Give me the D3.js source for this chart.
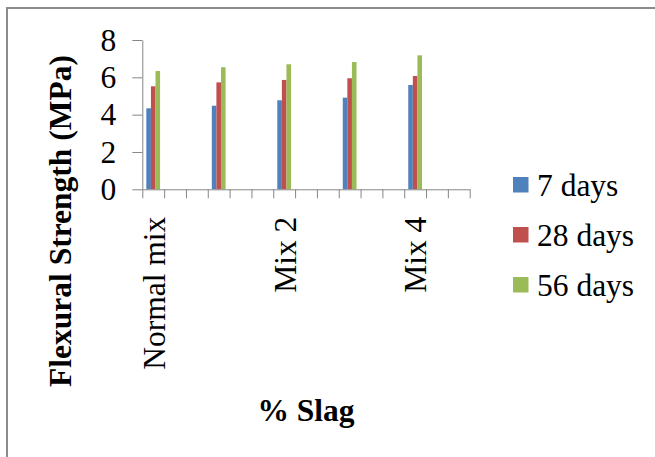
<!DOCTYPE html>
<html>
<head>
<meta charset="utf-8">
<script src="https://cdn.jsdelivr.net/npm/d3@7"></script>
<style>
  body { margin: 0; background: #fff; }
  text { font-family: "Liberation Serif", "Times New Roman", serif; fill: #000; }
</style>
</head>
<body>
<div id="chart"></div>
<script>
// Chart data
var mixes = ["Normal mix", "Mix 1", "Mix 2", "Mix 3", "Mix 4"];
var seriesNames = ["7 days", "28 days", "56 days"];
var days7 = [4.34, 4.48, 4.77, 4.91, 5.59];
var days28 = [5.52, 5.73, 5.86, 5.95, 6.07];
var days56 = [6.34, 6.54, 6.70, 6.82, 7.18];
var yTicks = [0, 2, 4, 6, 8];
var colors = ["#4F81BD", "#C0504D", "#9BBB59"];

// each mix sits in every third slot of the category axis (15 slots)
var slotCount = 15;
var slotStep = 3;

var svgWidth = 655;
var svgHeight = 457;

var margin = { top: 40, left: 142.3 };
var width = 327.4;
var height = 149.3;

var svg = d3.select("#chart")
  .append("svg")
  .attr("width", svgWidth)
  .attr("height", svgHeight);

// outer frame (cut off on the right and bottom)
svg.append("rect")
  .attr("x", 7)
  .attr("y", 8)
  .attr("width", 700)
  .attr("height", 500)
  .attr("fill", "none")
  .attr("stroke", "#8c8c8c")
  .attr("stroke-width", 2);

var chartGroup = svg.append("g")
  .attr("transform", `translate(${margin.left}, ${margin.top})`);

// scales
var xSlot = d3.scaleBand()
  .domain(d3.range(slotCount))
  .range([0, width]);

var xSeries = d3.scaleBand()
  .domain(seriesNames)
  .range([0, xSlot.bandwidth()])
  .paddingOuter(0.88);

var xEdge = d3.scaleLinear()
  .domain([0, slotCount])
  .range([0, width]);

var yLinearScale = d3.scaleLinear()
  .domain([0, 8])
  .range([height, 0]);

// y axis
var leftAxis = d3.axisLeft(yLinearScale)
  .tickValues(yTicks)
  .tickSizeInner(10)
  .tickSizeOuter(0)
  .tickPadding(16);

var yAxis = chartGroup.append("g").call(leftAxis);
yAxis.selectAll("path, line").attr("stroke", "#868686");
yAxis.selectAll("text")
  .style("font-size", "31.5px")
  .style("font-family", "'Liberation Serif', 'Times New Roman', serif")
  .attr("fill", "#000");

// bars
var seriesData = [days7, days28, days56];
seriesData.forEach(function(values, s) {
  chartGroup.append("g")
    .selectAll("rect")
    .data(values)
    .enter()
    .append("rect")
    .attr("x", (d, i) => xSlot(i * slotStep) + xSeries(seriesNames[s]))
    .attr("y", d => yLinearScale(d))
    .attr("width", xSeries.bandwidth())
    .attr("height", d => height - yLinearScale(d))
    .attr("fill", colors[s]);
});

// x axis with ticks between category slots
var bottomAxis = d3.axisBottom(xEdge)
  .tickValues(d3.range(slotCount + 1))
  .tickFormat("")
  .tickSizeInner(9)
  .tickSizeOuter(0);

var xAxis = chartGroup.append("g")
  .attr("transform", `translate(0, ${height})`)
  .call(bottomAxis);
xAxis.selectAll("path, line").attr("stroke", "#868686");

// rotated category labels, every other one shown
chartGroup.append("g")
  .selectAll("text")
  .data(mixes.filter((d, i) => i % 2 === 0))
  .enter()
  .append("text")
  .attr("transform", d => {
    var cx = xSlot(mixes.indexOf(d) * slotStep) + xSlot.bandwidth() / 2;
    return `translate(${cx}, ${height + 27.4}) rotate(-90)`;
  })
  .attr("dy", "0.36em")
  .attr("text-anchor", "end")
  .style("font-size", "31.5px")
  .text(d => d);

// axis titles
svg.append("text")
  .attr("transform", "translate(71, 221) rotate(-90)")
  .attr("text-anchor", "middle")
  .style("font-size", "31.5px")
  .style("font-weight", "bold")
  .text("Flexural Strength (MPa)");

svg.append("text")
  .attr("x", margin.left + width / 2)
  .attr("y", 421)
  .attr("text-anchor", "middle")
  .style("font-size", "31.5px")
  .style("font-weight", "bold")
  .text("% Slag");

// legend
var legend = svg.append("g")
  .attr("transform", "translate(513, 177)");

var legendItems = legend.selectAll("g")
  .data(seriesNames)
  .enter()
  .append("g")
  .attr("transform", (d, i) => `translate(0, ${i * 50})`);

legendItems.append("rect")
  .attr("width", 15.5)
  .attr("height", 15.5)
  .attr("fill", (d, i) => colors[i]);

legendItems.append("text")
  .attr("x", 24)
  .attr("y", 18.5)
  .style("font-size", "31.5px")
  .text(d => d);
</script>
</body>
</html>
